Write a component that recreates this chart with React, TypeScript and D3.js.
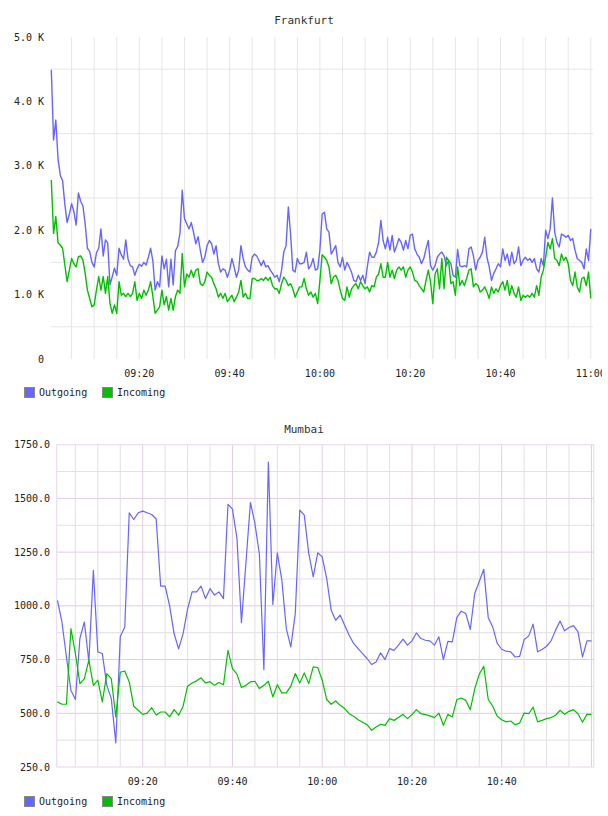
import React from 'react';
import * as d3 from 'd3';

// Frankfurt: 30 second samples, 09:00:30 .. 11:00:00, values in K
const fraOutgoing = [
  4.49, 3.4, 3.71, 3.1, 2.85, 2.77, 2.4, 2.12, 2.25, 2.41,
  2.29, 2.08, 2.58, 2.45, 2.38, 2.1, 1.72, 1.67, 1.5, 1.43,
  1.65, 1.72, 2.02, 1.6, 1.85, 1.8, 1.15, 1.28, 1.41, 1.3,
  1.72, 1.62, 1.55, 1.85, 1.55, 1.45, 1.43, 1.3, 1.4, 1.47,
  1.44, 1.5, 1.46, 1.58, 1.72, 1.52, 1.07, 1.2, 1.12, 1.6,
  1.4, 1.55, 1.12, 1.55, 1.15, 1.68, 1.75, 1.95, 2.62, 2.18,
  2.1, 2.02, 2.12, 1.97, 1.79, 1.9, 1.69, 1.5, 1.58, 1.76,
  1.84, 1.79, 1.63, 1.76, 1.48, 1.35, 1.4, 1.38, 1.27, 1.38,
  1.56, 1.43, 1.27, 1.38, 1.76, 1.56, 1.43, 1.38, 1.35, 1.58,
  1.63, 1.6, 1.53, 1.45, 1.53, 1.43, 1.45, 1.38, 1.33, 1.27,
  1.3, 1.2, 1.38, 1.66, 1.76, 2.36, 1.94, 1.38, 1.35, 1.56,
  1.48, 1.48, 1.5, 1.66, 1.4, 1.45, 1.56, 1.38, 1.4, 1.7,
  2.25, 2.28, 2.02, 1.97, 1.63, 1.69, 1.76, 1.5, 1.43, 1.58,
  1.38, 1.5, 1.43, 1.35, 1.22, 1.2, 1.3, 1.22, 1.3, 1.17,
  1.43, 1.66, 1.58, 1.58, 1.66, 1.81, 2.15, 1.84, 1.71, 1.89,
  1.69, 1.92, 1.66, 1.76, 1.87, 1.81, 1.69, 1.84, 1.71, 1.92,
  1.94, 1.71, 1.63, 1.58, 1.48, 1.56, 1.71, 1.84, 1.45, 1.38,
  1.45, 1.58, 1.63, 1.66, 1.6, 1.45, 1.53, 1.48, 1.3, 1.27,
  1.7, 1.45, 1.43, 1.45, 1.43, 1.71, 1.74, 1.6, 1.38, 1.53,
  1.58, 1.66, 1.89, 1.58, 1.43, 1.22, 1.33, 1.4, 1.48, 1.43,
  1.71, 1.53, 1.63, 1.45, 1.66, 1.48, 1.53, 1.74, 1.45, 1.53,
  1.58, 1.53, 1.56, 1.5, 1.56, 1.4, 1.35, 1.56, 1.45, 2.0,
  1.87, 2.02, 2.5, 1.97, 1.81, 1.74, 1.94, 1.92, 1.89, 1.92,
  1.84, 1.87, 1.69, 1.56, 1.53, 1.5, 1.4, 1.71, 1.53, 2.02,
];

const fraIncoming = [
  2.78, 1.95, 2.21, 1.8, 1.77, 1.72, 1.46, 1.2, 1.38, 1.56,
  1.48, 1.43, 1.59, 1.6, 1.54, 1.33, 1.07, 0.94, 0.81, 0.84,
  1.07, 1.28, 1.07, 1.28, 1.02, 1.28, 0.86, 0.71, 0.84, 0.71,
  1.2, 0.99, 1.02, 0.97, 1.02, 0.97, 1.02, 1.2, 0.91, 1.02,
  0.94, 1.07, 0.99, 1.07, 1.2, 0.97, 0.71, 0.76, 0.81, 1.07,
  0.84, 0.97, 0.76, 0.94, 0.76, 0.97, 1.07, 1.02, 1.64, 1.12,
  1.32, 1.27, 1.38, 1.27, 1.38, 1.4, 1.17, 1.14, 1.2, 1.35,
  1.3, 1.27, 1.17, 1.09, 0.96, 1.02, 0.94, 1.02, 0.89, 0.94,
  0.99, 0.89, 0.96, 1.04, 1.22, 0.96, 1.02, 0.94, 0.94, 1.25,
  1.25, 1.22, 1.22, 1.25, 1.22, 1.27, 1.22, 1.27, 1.14, 1.09,
  1.09, 1.02, 1.17, 1.27, 1.22, 1.14, 1.17, 1.09, 0.96, 1.04,
  1.12, 1.12, 1.25, 1.09, 0.99, 1.04, 0.96, 1.02, 0.86, 1.22,
  1.62, 1.58, 1.53, 1.43, 1.17, 1.27, 1.3, 1.22, 1.07, 0.94,
  0.91, 1.12, 0.96, 1.09, 1.14, 1.17, 1.09, 1.2, 1.14, 1.09,
  1.12, 1.04, 1.14, 1.12, 1.27, 1.32, 1.48, 1.27, 1.27, 1.5,
  1.27, 1.38, 1.25, 1.38, 1.43, 1.38, 1.43, 1.27, 1.38, 1.43,
  1.35, 1.22, 1.2, 1.14, 1.09, 1.04, 1.22, 1.38, 1.2, 0.86,
  1.32, 1.4, 1.09, 1.56, 1.09, 1.58, 1.53, 1.17, 1.2, 0.99,
  1.43, 1.14, 1.22, 1.14, 1.25, 1.38, 1.4, 1.12, 1.17, 1.14,
  1.04, 1.07, 1.12, 1.04, 0.94, 1.12, 1.02, 1.09, 1.04, 1.14,
  1.2, 1.07, 1.22, 0.99, 1.14, 1.02, 0.96, 1.12, 0.91, 0.99,
  0.96, 0.99, 0.96, 1.02, 0.96, 1.14, 0.99, 1.27, 1.38, 1.58,
  1.81, 1.71, 1.87, 1.56, 1.53, 1.45, 1.63, 1.53, 1.58, 1.48,
  1.22, 1.14, 1.35, 1.12, 1.04, 1.25, 1.27, 1.14, 1.35, 0.94,
];

// Mumbai: 1 minute samples, 09:01 .. 10:59
const mumOutgoing = [
  1026, 925, 762, 607, 564, 848, 925, 740, 1165, 785,
  778, 630, 568, 362, 856, 902, 1433, 1402, 1433, 1441,
  1433, 1425, 1404, 1092, 1092, 1000, 870, 800, 871, 985,
  1065, 1065, 1092, 1034, 1080, 1050, 1065, 1034, 1472, 1450,
  1314, 922, 1200, 1481, 1384, 1240, 703, 1669, 1006, 1247,
  1120, 894, 809, 964, 1446, 1422, 1244, 1135, 1247, 1228,
  1127, 980, 933, 957, 910, 863, 825, 801, 778, 755,
  727, 739, 781, 750, 801, 793, 817, 845, 817, 837,
  874, 848, 840, 837, 817, 856, 750, 835, 832, 946,
  975, 964, 890, 1059, 1113, 1170, 945, 902, 825, 798,
  789, 786, 762, 765, 843, 859, 915, 786, 797, 812,
  837, 887, 929, 884, 899, 908, 879, 762, 837, 837,
];

const mumIncoming = [
  553, 542, 542, 894, 778, 638, 661, 747, 630, 654,
  553, 685, 661, 483, 691, 697, 646, 533, 514, 495,
  501, 526, 492, 506, 506, 483, 517, 491, 533, 626,
  641, 651, 665, 641, 647, 630, 643, 633, 793, 708,
  682, 620, 630, 646, 649, 615, 630, 649, 576, 633,
  595, 595, 626, 685, 641, 688, 638, 716, 713, 654,
  564, 542, 557, 537, 522, 498, 486, 470, 458, 447,
  421, 436, 449, 444, 475, 467, 480, 495, 475, 494,
  517, 498, 494, 488, 480, 501, 444, 495, 483, 564,
  571, 560, 517, 615, 682, 719, 564, 533, 486, 470,
  460, 464, 447, 455, 501, 498, 529, 460, 467, 475,
  480, 491, 514, 495, 509, 517, 498, 458, 495, 495,
];

const seriesNames = ['Outgoing', 'Incoming'];
const seriesColors = ['#6666ff', '#00c000'];
const xTickLabels = ['09:20', '09:40', '10:00', '10:20', '10:40', '11:00'];
const fraYTicks = [0, 1, 2, 3, 4, 5];
const mumYTicks = [250, 500, 750, 1000, 1250, 1500, 1750];

const FONT = '"DejaVu Sans Mono", monospace';
const day = (h: number, m: number, s = 0) => new Date(2020, 0, 1, h, m, s);

function Legend({ y }: { y: number }) {
  return (
    <g transform={`translate(24, ${y})`}>
      {seriesNames.map((name, i) => (
        <g key={name} transform={`translate(${i * 78}, 0)`}>
          <rect x={0.5} y={0.5} width={10} height={10} fill={seriesColors[i]} stroke="#888" strokeWidth={1} />
          <text x={15} y={9} fontSize={10} fontFamily={FONT} fill="#222">{name}</text>
        </g>
      ))}
    </g>
  );
}

function Frankfurt() {
  const times = fraOutgoing.map((_, i) => new Date(day(9, 0, 30).getTime() + i * 30000));
  const x = d3.scaleTime().domain([day(9, 0, 30), day(11, 0)]).range([51.3, 590.8]);
  const y = d3.scaleLinear().domain([0, 5]).range([359, 37]);
  const vGrid = d3.timeMinute.every(5)!.range(day(9, 5), day(11, 0, 1));
  const hGrid = d3.range(0.5, 5, 1);
  const line = d3.line<number>().x((_, i) => x(times[i])).y((d) => y(d));
  return (
    <g>
      <defs>
        <clipPath id="fra-clip">
          <rect x={0} y={0} width={602} height={410} />
        </clipPath>
      </defs>
      <text x={304} y={24} textAnchor="middle" fontSize={11} fontFamily={FONT} fill="#333">Frankfurt</text>
      {hGrid.map((v) => (
        <line key={v} x1={51} x2={593} y1={y(v)} y2={y(v)} stroke="#e6e6e6" />
      ))}
      {vGrid.map((t) => (
        <line key={+t} x1={x(t)} x2={x(t)} y1={37} y2={359} stroke="#e6e6e6" />
      ))}
      {fraYTicks.map((v) => (
        <text key={v} x={44} y={y(v)} dy="0.35em" textAnchor="end" fontSize={10} fontFamily={FONT} fill="#222">
          {v === 0 ? '0' : `${v.toFixed(1)} K`}
        </text>
      ))}
      <g clipPath="url(#fra-clip)">
        {xTickLabels.map((lbl) => {
          const [h, m] = lbl.split(':').map(Number);
          return (
            <text key={lbl} x={x(day(h, m))} y={373} dy="0.35em" textAnchor="middle" fontSize={10} fontFamily={FONT} fill="#222">{lbl}</text>
          );
        })}
      </g>
      {[fraOutgoing, fraIncoming].map((s, i) => (
        <path key={i} d={line(s)!} fill="none" stroke={seriesColors[i]} strokeWidth={1.4} strokeLinejoin="round" />
      ))}
      <Legend y={387} />
    </g>
  );
}

function Mumbai() {
  const times = mumOutgoing.map((_, i) => day(9, 1 + i));
  const x = d3.scaleTime().domain([day(9, 0, 50), day(11, 0, 30)]).range([56.7, 593.7]);
  const y = d3.scaleLinear().domain([250, 1750]).range([767, 444.7]);
  const vGrid = d3.timeMinute.every(5)!.range(day(9, 5), day(11, 0, 1));
  const hGrid = d3.range(375, 1750, 125);
  const line = d3.line<number>().x((_, i) => x(times[i])).y((d) => y(d));
  return (
    <g>
      <text x={304} y={433} textAnchor="middle" fontSize={11} fontFamily={FONT} fill="#333">Mumbai</text>
      {hGrid.map((v) => (
        <line key={v} x1={56.7} x2={593.7} y1={y(v)} y2={y(v)} stroke={v % 250 === 0 ? '#e2cce2' : '#e3dfe3'} />
      ))}
      {vGrid.map((t) => (
        <line key={+t} x1={x(t)} x2={x(t)} y1={444.7} y2={767}
          stroke={t.getMinutes() % 20 === 0 ? '#e2cce2' : '#e3dfe3'} />
      ))}
      <rect x={56.7} y={444.7} width={537} height={322.3} fill="none" stroke="#ecdcec" strokeWidth={1.2} />
      {mumYTicks.map((v) => (
        <text key={v} x={50} y={y(v)} dy="0.35em" textAnchor="end" fontSize={10} fontFamily={FONT} fill="#222">
          {v.toFixed(1)}
        </text>
      ))}
      {xTickLabels.slice(0, 5).map((lbl) => {
        const [h, m] = lbl.split(':').map(Number);
        return (
          <text key={lbl} x={x(day(h, m))} y={781.5} dy="0.35em" textAnchor="middle" fontSize={10} fontFamily={FONT} fill="#222">{lbl}</text>
        );
      })}
      {[mumOutgoing, mumIncoming].map((s, i) => (
        <path key={i} d={line(s)!} fill="none" stroke={seriesColors[i]} strokeWidth={1.2} strokeLinejoin="round" />
      ))}
      <Legend y={796} />
    </g>
  );
}

export default function App() {
  return (
    <svg width={608} height={816} style={{ position: 'absolute', left: 0, top: 0, background: '#fff' }}>
      <Frankfurt />
      <Mumbai />
    </svg>
  );
}
